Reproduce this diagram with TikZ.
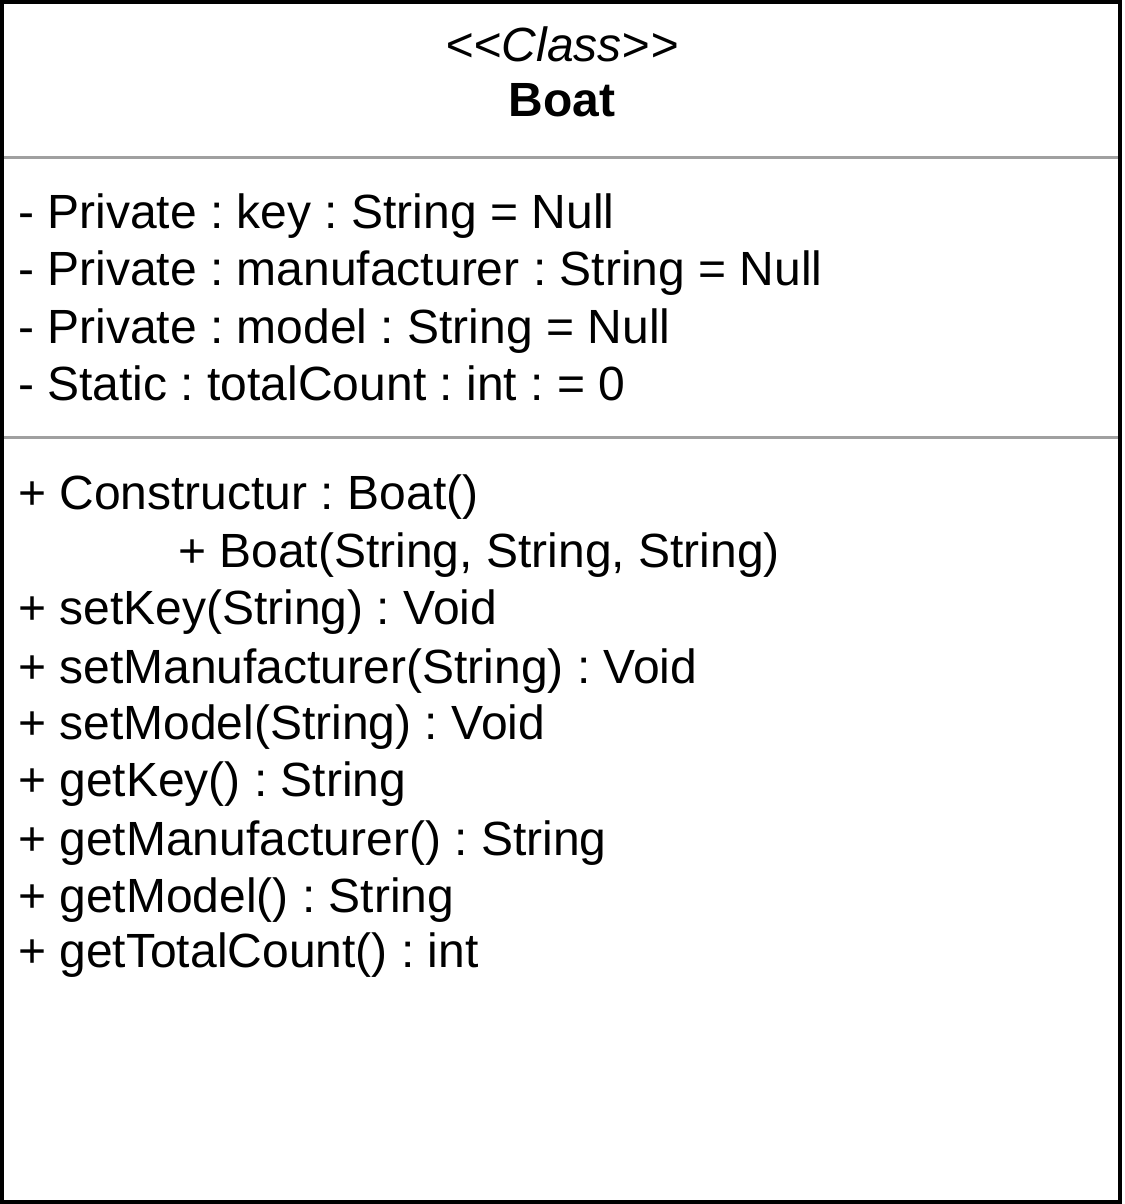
\documentclass[tikz,border=0pt]{standalone}
\usepackage{fontspec}
\setmainfont{Liberation Sans}
\frenchspacing
\definecolor{sepgray}{HTML}{A0A0A0}
\begin{document}
\begin{tikzpicture}[x=1pt,y=-1pt,every node/.style={inner sep=0pt,anchor=base west,font=\fontsize{48}{57.6}\selectfont}]
        \useasboundingbox (0,0) rectangle (1124,1204);
        % box and compartments
        \draw[sepgray,line width=3pt] (0,157) -- (1119,157);
        \draw[sepgray,line width=3pt] (0,437) -- (1119,437);
        \draw[black,line width=4pt] (2,2) rectangle (1120,1202);
        % header
        \node[anchor=base] at (562,62) (stereo) {\itshape <{}<Class>{}>};
        \node[anchor=base] at (562,117) (name) {\bfseries Boat};
        % attributes
        \node at (18,228) (a1) {- Private : key : String = Null};
        \node at (18,285) (a2) {- Private : manufacturer : String = Null};
        \node at (18,343) (a3) {- Private : model : String = Null};
        \node at (18,400) (a4) {- Static : totalCount : int : = 0};
        % operations
        \node at (18,509) (m1) {+ Constructur : Boat()};
        \node at (178,567) (m2) {+ Boat(String, String, String)};
        \node at (18,624) (m3) {+ setKey(String) : Void};
        \node at (18,683) (m4) {+ setManufacturer(String) : Void};
        \node at (18,739) (m5) {+ setModel(String) : Void};
        \node at (18,796) (m6) {+ getKey() : String};
        \node at (18,855) (m7) {+ getManufacturer() : String};
        \node at (18,912) (m8) {+ getModel() : String};
        \node at (18,967) (m9) {+ getTotalCount() : int};
    \end{tikzpicture}
\end{document}
